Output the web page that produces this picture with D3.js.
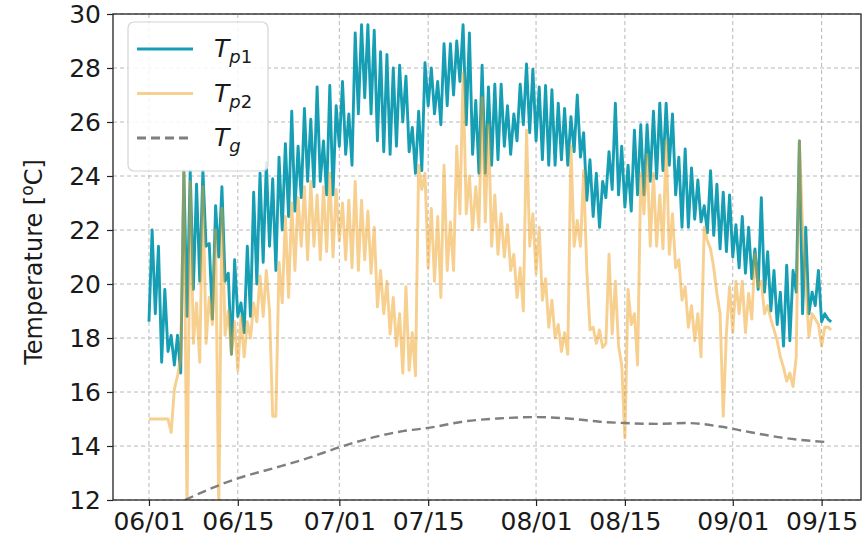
<!DOCTYPE html>
<html lang="en">
<head>
<meta charset="utf-8">
<title>Temperature Tp1 / Tp2 / Tg</title>
<script src="https://cdn.jsdelivr.net/npm/d3@7"></script>
<style>
  body { margin: 0; background: #fff; }
  text { font-family: "DejaVu Sans", sans-serif; fill: #1a1a1a; }
</style>
</head>
<body>
<div id="chart"></div>
<script>
// half-day samples from 06/01 00:00: [night low, afternoon high] per day
const tp1 = [
  18.6, 22.0,  18.9, 21.4,  17.1, 19.8,  17.5, 18.1,  17.0, 18.1,
  16.7, 24.2,  18.8, 24.2,  19.8, 23.7,  20.1, 24.2,  21.4, 21.5,
  18.7, 22.9,  21.0, 23.6,  20.1, 20.4,  17.4, 20.9,  18.8, 19.3,
  18.2, 21.4,  18.8, 23.4,  20.0, 24.1,  20.8, 24.5,  21.4, 23.9,
  20.5, 24.7,  22.0, 25.2,  22.5, 26.4,  22.7, 25.1,  23.2, 26.5,
  23.8, 26.1,  23.6, 27.3,  23.8, 25.3,  23.3, 27.35, 23.3, 26.6,
  25.1, 27.5,  24.8, 26.3,  24.4, 29.3,  26.3, 29.6,  26.9, 29.6,
  26.3, 29.4,  25.3, 28.6,  24.9, 28.5,  24.8, 28.0,  25.1, 28.1,
  26.0, 27.7,  24.9, 25.8,  24.1, 26.4,  24.2, 28.2,  26.6, 28.0,
  26.3, 27.5,  25.9, 28.9,  26.6, 28.9,  27.0, 29.0,  27.5, 29.6,
  25.9, 29.3,  24.8, 26.8,  24.1, 28.1,  24.1, 27.3,  24.4, 27.4,
  24.6, 27.4,  25.1, 26.6,  24.8, 26.3,  25.3, 27.4,  25.9, 28.15,
  25.6, 27.96, 25.3, 27.3,  24.6, 27.35, 24.4, 27.2,  24.4, 26.7,
  24.6, 26.5,  24.4, 26.2,  24.9, 27.0,  24.7, 25.6,  23.1, 24.6,
  22.5, 24.1,  22.1, 23.8,  23.2, 24.9,  23.5, 26.7,  23.3, 25.1,
  22.85, 24.4, 22.7, 25.7,  23.3, 25.9,  23.3, 25.9,  23.8, 26.4,
  23.9, 26.7,  24.2, 26.7,  24.4, 26.3,  23.3, 24.7,  22.1, 25.0,
  22.1, 24.3,  22.4, 23.85, 22.3, 22.9,  21.9, 24.2,  21.8, 23.7,
  21.3, 23.4,  21.2, 23.3,  21.0, 22.2,  20.6, 22.5,  20.4, 22.1,
  20.2, 21.3,  19.8, 23.2,  19.7, 21.2,  19.0, 20.5,  18.5, 19.7,
  17.7, 20.7,  17.9, 20.5,  19.7, 25.3,  18.9, 22.1,  18.9, 19.7,
  19.2, 20.5,  18.6, 18.9,  18.7, 18.6
]

const tp2 = [
  15.0, 15.0,  15.0, 15.0,  15.0, 15.0,  15.0, 14.5,  16.1, 16.6,
  17.2, 24.2,  11.5, 23.8,  17.8, 19.3,  17.1, 23.6,  17.8, 19.5,
  18.5, 22.0,  11.5, 22.8,  18.1, 19.0,  17.4, 18.6,  16.8, 18.8,
  17.3, 18.6,  18.0, 19.3,  18.6, 20.3,  18.8, 20.5,  19.0, 15.1,
  15.1, 20.8,  19.3, 22.5,  19.5, 23.0,  20.5, 23.2,  21.4, 23.6,
  20.9, 23.8,  21.4, 23.3,  20.9, 23.6,  21.2, 24.1,  21.0, 23.5,
  21.6, 23.0,  20.9, 23.1,  20.6, 23.8,  20.5, 23.1,  20.9, 22.7,
  20.4, 22.1,  19.15, 20.5, 18.9, 20.1,  18.15, 19.5, 17.7, 18.9,
  16.7, 19.9,  16.8, 18.2,  16.6, 24.4,  23.5, 24.1,  20.6, 22.8,
  20.1, 22.5,  19.5, 24.4,  20.5, 22.3,  20.5, 25.1,  22.6, 27.8,
  22.6, 24.0,  22.0, 23.6,  22.1, 26.9,  22.3, 25.9,  21.4, 23.3,
  21.1, 22.6,  21.0, 22.2,  20.5, 21.1,  19.5, 20.6,  19.0, 25.7,
  21.4, 22.6,  20.4, 22.1,  19.4, 20.2,  18.4, 19.4,  18.0, 18.5,
  17.5, 18.2,  17.4, 25.1,  21.4, 22.35, 21.4, 24.2,  20.5, 18.3,
  18.4, 17.8,  18.3, 17.65, 17.8, 21.1,  18.15, 20.1, 17.7, 17.0,
  14.3, 19.8,  18.5, 18.9,  17.0, 24.1,  22.6, 24.8,  21.4, 24.1,
  21.4, 23.3,  21.3, 25.3,  21.1, 22.6,  20.6, 20.9,  19.4, 19.9,
  18.4, 19.2,  17.9, 18.9,  17.3, 22.1,  21.6, 21.3,  20.6, 19.65,
  18.9, 15.1,  18.2, 19.9,  18.2, 20.1,  18.9, 20.1,  18.2, 19.65,
  18.7, 21.1,  19.9, 20.1,  18.9, 19.2,  18.7, 18.3,  17.9, 17.3,
  16.9, 16.4,  16.7, 16.2,  17.3, 25.3,  22.1, 20.0,  18.05, 18.9,
  18.7, 18.5,  17.7, 18.4,  18.4, 18.3
]

// ground temperature, smooth: day offset from 06/01 and value
const tgDays = [5.7, 10, 14, 20, 25, 30, 35, 40, 44, 50, 55, 61, 67, 71, 75, 80, 85, 90, 95, 100, 106.5]
const tgVals = [12.0, 12.45, 12.8, 13.2, 13.55, 13.95, 14.3, 14.55, 14.67, 14.92, 15.02, 15.07, 15.0, 14.9, 14.85, 14.82, 14.85, 14.72, 14.5, 14.3, 14.15]

const tickDates = ['06/01', '06/15', '07/01', '07/15', '08/01', '08/15', '09/01', '09/15']
const yTicks = [12, 14, 16, 18, 20, 22, 24, 26, 28, 30]

const width = 866
const height = 540
const margins = { top: 14, right: 5, bottom: 40, left: 113 }

const start = new Date(2021, 5, 1)
const parseTick = d3.timeParse('%Y/%m/%d')

const svg = d3.select('#chart').append('svg')
    .attr('width', width)
    .attr('height', height)

const xScale = d3.scaleTime()
    .domain([d3.timeHour.offset(start, -136), d3.timeHour.offset(start, 2693)])
    .range([margins.left, width - margins.right])

const yScale = d3.scaleLinear()
    .domain([12, 30])
    .range([height - margins.bottom, margins.top])

svg.append('defs').append('clipPath').attr('id', 'plotClip')
  .append('rect')
    .attr('x', margins.left)
    .attr('y', margins.top)
    .attr('width', width - margins.left - margins.right)
    .attr('height', height - margins.top - margins.bottom)

// grid
const grid = svg.append('g')
grid.selectAll('.vgrid')
    .data(tickDates)
    .join('line')
    .attr('x1', d => xScale(parseTick('2021/' + d)))
    .attr('x2', d => xScale(parseTick('2021/' + d)))
    .attr('y1', margins.top)
    .attr('y2', height - margins.bottom)
    .attr('stroke', '#b8b8b8')
    .attr('stroke-width', 1)
    .attr('stroke-dasharray', '4,3')
grid.selectAll('.hgrid')
    .data(yTicks)
    .join('line')
    .attr('x1', margins.left)
    .attr('x2', width - margins.right)
    .attr('y1', d => yScale(d))
    .attr('y2', d => yScale(d))
    .attr('stroke', '#b8b8b8')
    .attr('stroke-width', 1)
    .attr('stroke-dasharray', '4,3')

const halfDay = (v, i) => ({ t: d3.timeHour.offset(start, i * 12), v: v })

const line = d3.line()
    .x(d => xScale(d.t))
    .y(d => yScale(d.v))

const plot = svg.append('g').attr('clip-path', 'url(#plotClip)')

plot.append('path')
    .datum(tp1.map(halfDay))
    .attr('d', line)
    .attr('fill', 'none')
    .attr('stroke', '#169fb4')
    .attr('stroke-width', 2.9)
    .attr('stroke-linejoin', 'round')

plot.append('path')
    .datum(tp2.map(halfDay))
    .attr('d', line)
    .attr('fill', 'none')
    .attr('stroke', '#f0a020')
    .attr('stroke-opacity', 0.5)
    .attr('stroke-width', 2.9)
    .attr('stroke-linejoin', 'round')

const tgData = tgDays.map((d, i) => ({ t: d3.timeHour.offset(start, d * 24), v: tgVals[i] }))
plot.append('path')
    .datum(tgData)
    .attr('d', line.curve(d3.curveMonotoneX))
    .attr('fill', 'none')
    .attr('stroke', '#7f7f7f')
    .attr('stroke-width', 2.4)
    .attr('stroke-dasharray', '9,5')

// axes
const xAxis = d3.axisBottom(xScale)
    .tickValues(tickDates.map(d => parseTick('2021/' + d)))
    .tickFormat(d3.timeFormat('%m/%d'))
    .tickSize(6)
    .tickPadding(6)
const yAxis = d3.axisLeft(yScale)
    .tickValues(yTicks)
    .tickSize(6)
    .tickPadding(6)

const gx = svg.append('g')
    .attr('transform', `translate(0, ${height - margins.bottom})`)
    .call(xAxis)
const gy = svg.append('g')
    .attr('transform', `translate(${margins.left}, 0)`)
    .call(yAxis)
;[gx, gy].forEach(g => {
  g.select('.domain').remove()
  g.selectAll('.tick line').attr('stroke', '#222').attr('stroke-width', 1.2)
  g.selectAll('.tick text').attr('font-size', 25).attr('fill', '#1a1a1a')
    .style('font-family', '"DejaVu Sans", sans-serif')
})

// frame
svg.append('rect')
    .attr('x', margins.left)
    .attr('y', margins.top)
    .attr('width', width - margins.left - margins.right)
    .attr('height', height - margins.top - margins.bottom)
    .attr('fill', 'none')
    .attr('stroke', '#222')
    .attr('stroke-width', 1.3)

// y label
const yLabel = svg.append('text')
    .attr('transform', `translate(42, ${(margins.top + height - margins.bottom) / 2 + 5}) rotate(-90)`)
    .attr('text-anchor', 'middle')
    .attr('font-size', 24)
yLabel.append('tspan').text('Temperature [')
yLabel.append('tspan').attr('font-size', 17).attr('dy', -9).text('o')
yLabel.append('tspan').attr('dy', 9).text('C]')

// legend
const legend = svg.append('g')
legend.append('rect')
    .attr('x', 128).attr('y', 22)
    .attr('width', 140).attr('height', 149)
    .attr('rx', 6)
    .attr('fill', '#fff').attr('fill-opacity', 0.85)
    .attr('stroke', '#d4d4d4').attr('stroke-width', 1.2)

const legendItems = [
  { sub: 'p1', color: '#169fb4', opacity: 1, dash: null },
  { sub: 'p2', color: '#f0a020', opacity: 0.5, dash: null },
  { sub: 'g', color: '#7f7f7f', opacity: 1, dash: '9,5' }
]
legendItems.forEach((it, i) => {
  const y = 49 + i * 44.5
  legend.append('line')
      .attr('x1', 137).attr('x2', 193)
      .attr('y1', y).attr('y2', y)
      .attr('stroke', it.color)
      .attr('stroke-opacity', it.opacity)
      .attr('stroke-width', 2.9)
      .attr('stroke-dasharray', it.dash)
  const t = legend.append('text')
      .attr('x', 214).attr('y', y + 8)
      .attr('font-size', 25)
  t.append('tspan').attr('font-style', 'italic').text('T')
  if (it.sub === 'g') {
    t.append('tspan').attr('font-style', 'italic').attr('font-size', 18).attr('dy', 6).text('g')
  } else {
    t.append('tspan').attr('font-style', 'italic').attr('font-size', 18).attr('dy', 6).text('p')
    t.append('tspan').attr('font-size', 18).text(it.sub.slice(1))
  }
})
</script>
</body>
</html>
